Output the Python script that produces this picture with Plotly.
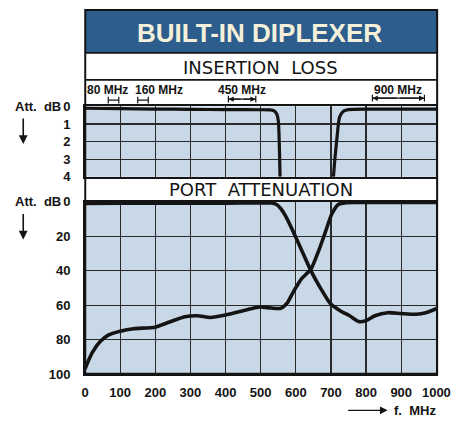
import plotly.graph_objects as go

W, H = 467, 428


def px_x(p):
    return p / W


def px_y(p):
    return 1 - p / H


# ---------------- data ----------------
freq_ticks = [0, 100, 200, 300, 400, 500, 600, 700, 800, 900, 1000]
il_ticks = [0, 1, 2, 3, 4]
il_tick_text = ["0", "1", "2", "3", "4"]
att_ticks = [0, 20, 40, 60, 80, 100]
att_tick_text = ["0", "20", "40", "60", "80", "100"]

# insertion loss (dB) - low-pass branch and high-pass branch
il_low_f = [0, 100, 200, 300, 400, 500, 525, 538, 546, 550, 552, 553.5, 555]
il_low_db = [0.10, 0.13, 0.15, 0.17, 0.18, 0.19, 0.20, 0.25, 0.45, 0.8, 1.5, 2.6, 4.0]
il_high_f = [707, 711, 716, 720, 724, 730, 737, 750, 800, 900, 1000]
il_high_db = [4.0, 3.0, 2.0, 1.2, 0.65, 0.40, 0.25, 0.18, 0.16, 0.16, 0.16]

# port attenuation (dB)
att_low_f = [0, 100, 200, 300, 400, 500, 530, 545, 557, 571, 589, 612, 643, 671,
             698, 725, 753, 780, 800, 825, 862, 900, 943, 970, 1000]
att_low_db = [0.9, 0.8, 0.8, 0.7, 0.7, 0.6, 0.6, 1.5, 3.8, 8.2, 15.7, 26.0, 40.0, 50.3,
              59.0, 63.0, 66.1, 69.5, 68.9, 66.1, 64.3, 64.8, 65.2, 64.3, 62.0]
att_high_f = [0, 10, 20, 43, 66, 100, 138, 200, 238, 284, 320, 357, 400, 448, 484,
              500, 530, 557, 575, 593, 616, 643, 666, 684, 702, 720, 743, 800, 900, 1000]
att_high_db = [96.9, 92.0, 87.6, 81.1, 77.3, 75.1, 73.6, 72.7, 69.9, 66.7, 66.1, 67.1,
               65.7, 63.3, 61.5, 61.0, 61.6, 61.8, 58.8, 52.2, 44.7, 39.0, 27.8, 17.5,
               7.2, 1.6, 0.4, 0.3, 0.3, 0.3]

# frequency band markers shown above the insertion-loss panel
band_labels = ["80 MHz", "160 MHz", "450 MHz", "900 MHz"]
band_lo = [66, 150, 408, 818]
band_hi = [96, 180, 486, 966]

# ---------------- style ----------------
BLUE = "#2c5d8c"
CREAM = "#f4f0da"
PLOT_BG = "#c9d8e7"
GRID = "#2a2a2a"
INK = "#141414"
FONT = "Liberation Sans"

XDOM = [px_x(84.3), px_x(449.7)]
TOP_DOM = [px_y(176), px_y(103)]
BOT_DOM = [px_y(380.5), px_y(202)]

fig = go.Figure()

curve = dict(color=INK, width=3.2)
fig.add_trace(go.Scatter(x=il_low_f, y=il_low_db, mode="lines", line=dict(curve, shape="spline", smoothing=0.4),
                         xaxis="x", yaxis="y", hoverinfo="skip"))
fig.add_trace(go.Scatter(x=il_high_f, y=il_high_db, mode="lines", line=dict(curve, shape="spline", smoothing=0.4),
                         xaxis="x", yaxis="y", hoverinfo="skip"))
fig.add_trace(go.Scatter(x=att_low_f, y=att_low_db, mode="lines",
                         line=dict(color=INK, width=3.6, shape="spline", smoothing=0.6),
                         xaxis="x2", yaxis="y2", hoverinfo="skip"))
fig.add_trace(go.Scatter(x=att_high_f, y=att_high_db, mode="lines",
                         line=dict(color=INK, width=3.6, shape="spline", smoothing=0.6),
                         xaxis="x2", yaxis="y2", hoverinfo="skip"))

tickfont = dict(family=FONT, size=13, color=INK, weight="bold")
axis_common = dict(showgrid=True, gridcolor=GRID, gridwidth=1.3, showline=True, mirror=True,
                   linecolor=INK, linewidth=2, zeroline=False, ticks="", fixedrange=True)

fig.update_layout(
    width=W, height=H, margin=dict(l=0, r=0, t=0, b=0),
    paper_bgcolor="white", plot_bgcolor=PLOT_BG, showlegend=False,
    xaxis=dict(axis_common, domain=XDOM, range=[0, 1000], tickvals=freq_ticks,
               showticklabels=False, anchor="y"),
    yaxis=dict(axis_common, domain=TOP_DOM, range=[4, 0], tickvals=il_ticks, ticktext=il_tick_text,
               tickfont=tickfont, ticklabelstandoff=10, anchor="x"),
    xaxis2=dict(axis_common, domain=XDOM, range=[0, 1000], tickvals=freq_ticks,
                tickfont=tickfont, ticklabelstandoff=5, anchor="y2"),
    yaxis2=dict(axis_common, domain=BOT_DOM, range=[100, 0], tickvals=att_ticks, ticktext=att_tick_text,
                tickfont=tickfont, ticklabelstandoff=10, anchor="x2"),
)

shapes = []
# blue title band
shapes.append(dict(type="rect", xref="paper", yref="paper", x0=px_x(84.5), x1=px_x(450.5),
                   y0=px_y(47.5), y1=px_y(3), fillcolor=BLUE, line=dict(width=0), layer="below"))
# outer frame
shapes.append(dict(type="rect", xref="paper", yref="paper", x0=px_x(84.5), x1=px_x(450.5),
                   y0=px_y(380.5), y1=px_y(3), line=dict(color=INK, width=2), fillcolor="rgba(0,0,0,0)"))
# band separators
for yy in [47.5, 75.5]:
    shapes.append(dict(type="line", xref="paper", yref="paper", x0=px_x(84.5), x1=px_x(450.5),
                       y0=px_y(yy), y1=px_y(yy), line=dict(color=INK, width=1.6)))
# thick bottom border
shapes.append(dict(type="line", xref="paper", yref="paper", x0=px_x(84.5), x1=px_x(450.5),
                   y0=px_y(380.5), y1=px_y(380.5), line=dict(color=INK, width=3)))

# band bracket markers
br_y = [96.5, 96.5, 95.5, 94.5]
for lo, hi, yy in zip(band_lo, band_hi, br_y):
    shapes.append(dict(type="line", xref="x", yref="paper", x0=lo, x1=hi, y0=px_y(yy), y1=px_y(yy),
                       line=dict(color=INK, width=1.2)))
    for xx in (lo, hi):
        shapes.append(dict(type="line", xref="x", yref="paper", x0=xx, x1=xx,
                           y0=px_y(yy + 3.5), y1=px_y(yy - 3.5), line=dict(color=INK, width=1.2)))
fig.update_layout(shapes=shapes)

ann = []
ann.append(dict(text="BUILT-IN DIPLEXER", xref="paper", yref="paper", x=px_x(266), y=px_y(27),
                showarrow=False, font=dict(family=FONT, size=26, color=CREAM, weight="bold"),
                xanchor="center", yanchor="middle"))
ann.append(dict(text="INSERTION  LOSS", xref="paper", yref="paper", x=px_x(267), y=px_y(63),
                showarrow=False, font=dict(family="DejaVu Sans", size=18, color=INK),
                xanchor="center", yanchor="middle"))
ann.append(dict(text="PORT  ATTENUATION", xref="paper", yref="paper", x=px_x(267), y=px_y(189),
                showarrow=False, font=dict(family="DejaVu Sans", size=18, color=INK),
                xanchor="center", yanchor="middle"))
band_label_px = [108, 161, 248, 410]
for lab, cx in zip(band_labels, band_label_px):
    ann.append(dict(text=lab, xref="paper", yref="paper", x=px_x(cx), y=px_y(86),
                    showarrow=False, font=dict(family=FONT, size=12, color=INK, weight="bold"),
                    xanchor="center", yanchor="middle"))
# arrowheads on the 450 / 900 brackets
for lo, hi, yy in zip(band_lo[2:], band_hi[2:], br_y[2:]):
    mid = (lo + hi) / 2
    for end in (lo, hi):
        ann.append(dict(text="", xref="x", yref="paper", x=end, y=px_y(yy), ax=mid, ay=0,
                        axref="x", ayref="pixel", showarrow=True, arrowhead=2, arrowsize=0.9,
                        arrowwidth=1.2, arrowcolor=INK))
# y-axis titles
for yy in [103, 202]:
    ann.append(dict(text="Att.  dB", xref="paper", yref="paper", x=px_x(61), y=px_y(yy),
                    showarrow=False, font=dict(family=FONT, size=13, color=INK, weight="bold"),
                    xanchor="right", yanchor="middle"))
for y0, y1 in [(115, 142), (214, 241)]:
    ann.append(dict(text="", xref="paper", yref="paper", x=px_x(20), y=px_y(y1), ax=0, ay=-(y1 - y0),
                    showarrow=True, arrowhead=2, arrowsize=1.1, arrowwidth=1.6, arrowcolor=INK))
# x-axis title
ann.append(dict(text="", xref="paper", yref="paper", x=px_x(399), y=px_y(418), ax=-41, ay=0,
                showarrow=True, arrowhead=2, arrowsize=1.1, arrowwidth=1.4, arrowcolor=INK))
ann.append(dict(text="f.  MHz", xref="paper", yref="paper", x=px_x(451), y=px_y(418),
                showarrow=False, font=dict(family=FONT, size=13, color=INK, weight="bold"),
                xanchor="right", yanchor="middle"))
fig.update_layout(annotations=ann)

fig.write_html("out.html", config={"displayModeBar": False, "staticPlot": True},
               post_script="document.body.style.margin='0';document.body.style.overflow='hidden';")
